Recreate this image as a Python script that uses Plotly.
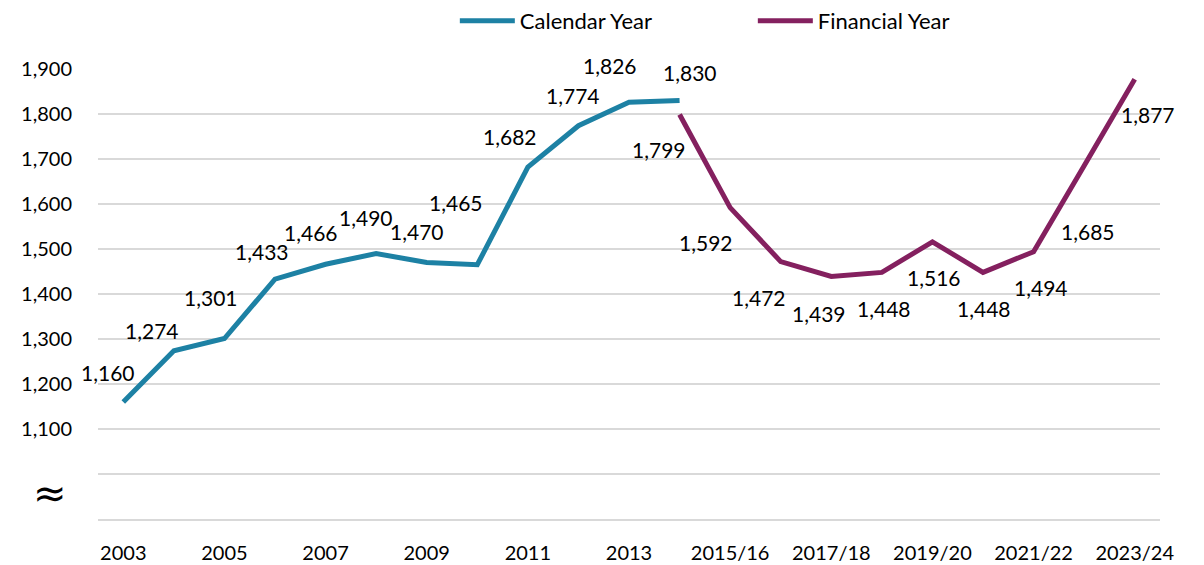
import plotly.graph_objects as go

# ---- data ----
categories = ["2003", "2004", "2005", "2006", "2007", "2008", "2009", "2010",
              "2011", "2012", "2013", "2014", "2015/16", "2016/17", "2017/18",
              "2018/19", "2019/20", "2020/21", "2021/22", "2022/23", "2023/24"]
calendar_year = [1160, 1274, 1301, 1433, 1466, 1490, 1470, 1465, 1682, 1774, 1826, 1830,
                 None, None, None, None, None, None, None, None, None]
financial_year = [None, None, None, None, None, None, None, None, None, None, None,
                  1799, 1592, 1472, 1439, 1448, 1516, 1448, 1494, 1685, 1877]
y_ticks = [900, 1000, 1100, 1200, 1300, 1400, 1500, 1600, 1700, 1800, 1900]
y_ticktext = ["", "", "1,100", "1,200", "1,300", "1,400", "1,500", "1,600", "1,700", "1,800", "1,900"]

# ---- style ----
TEAL = "#1D81A4"
PURPLE = "#84205F"
FONT = "Lato"
# data-label offsets in px (dx right, dy down) for each point of each series
cal_offsets = [(-15, -30), (-22, -20), (-13, -41), (-13, -28), (-15, -32), (-10, -36),
               (-10, -31), (-21, -62), (-18, -31), (-5, -30), (-19, -37), (10, -28)]
fin_offsets = [(-21, 35), (-24, 35), (-22, 36), (-12, 37), (2, 36), (2, 36),
               (1, 36), (7, 36), (4, 66), (13, 35)]

fig = go.Figure()
fig.add_trace(go.Scatter(x=categories, y=calendar_year, mode="lines", name="Calendar Year",
                         line=dict(color=TEAL, width=5), connectgaps=False, hoverinfo="skip"))
fig.add_trace(go.Scatter(x=categories, y=financial_year, mode="lines", name="Financial Year",
                         line=dict(color=PURPLE, width=5), connectgaps=False, hoverinfo="skip"))

annotations = []
cal_pts = [(i, v) for i, v in enumerate(calendar_year) if v is not None]
fin_pts = [(i, v) for i, v in enumerate(financial_year) if v is not None]
for (i, v), (dx, dy) in zip(cal_pts, cal_offsets):
    annotations.append(dict(x=i, y=v, xref="x", yref="y", text=f"{v:,}", showarrow=False,
                            xshift=dx, yshift=-dy,
                            font=dict(family=FONT, size=21, color="#000000")))
for (i, v), (dx, dy) in zip(fin_pts, fin_offsets):
    annotations.append(dict(x=i, y=v, xref="x", yref="y", text=f"{v:,}", showarrow=False,
                            xshift=dx, yshift=-dy,
                            font=dict(family=FONT, size=21, color="#000000")))
# axis break symbol
annotations.append(dict(x=-0.045, xref="paper", y=0.058, yref="paper", text="≈",
                        showarrow=False, xanchor="center", yanchor="middle",
                        font=dict(family="DejaVu Sans", size=40, color="#000000")))

fig.update_layout(
    width=1204, height=565,
    margin=dict(l=98, r=44, t=69, b=46),
    paper_bgcolor="white", plot_bgcolor="white",
    font=dict(family=FONT, size=20, color="#000000"),
    showlegend=True,
    legend=dict(orientation="h", x=0.336, xanchor="left", y=1.0, yanchor="top",
                yref="container", font=dict(family=FONT, size=22, color="#000000"),
                itemwidth=55, entrywidth=228, traceorder="normal"),
    annotations=annotations,
)
fig.update_xaxes(type="category", categoryorder="array", categoryarray=categories,
                 tickmode="array", tickvals=categories[::2], range=[-0.5, len(categories) - 0.5],
                 showgrid=False, showline=True, linecolor="#D9D9D9", linewidth=1.5,
                 ticks="", ticklabelstandoff=15, automargin=False,
                 tickfont=dict(family=FONT, size=20, color="#000000"))
fig.update_yaxes(range=[900, 1900], tickmode="array", tickvals=y_ticks, ticktext=y_ticktext,
                 showgrid=True, gridcolor="#D9D9D9", gridwidth=1.5, zeroline=False,
                 showline=False, ticks="", ticklabelstandoff=25, automargin=False,
                 tickfont=dict(family=FONT, size=20, color="#000000"))

fig.write_html("out.html", config={"displayModeBar": False},
               post_script="document.body.style.margin='0';")
